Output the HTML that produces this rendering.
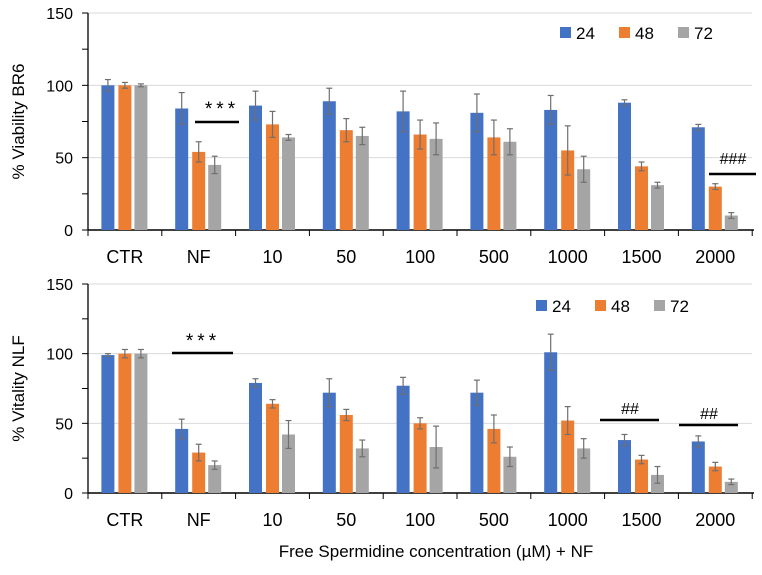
<!DOCTYPE html>
<html><head><meta charset="utf-8"><style>
body{margin:0;background:#fff;font-family:"Liberation Sans","DejaVu Sans",sans-serif}
svg text{font-family:"Liberation Sans","DejaVu Sans",sans-serif}
</style></head><body>
<svg id="c" width="762" height="570" viewBox="0 0 762 570" xmlns="http://www.w3.org/2000/svg"></svg>
<script>
const categories=["CTR","NF","10","50","100","500","1000","1500","2000"];
const seriesNames=["24","48","72"];
const colors=["#4472C4","#ED7D31","#A5A5A5"];
const br6_24=[100,84,86,89,82,81,83,88,71];
const br6_48=[100,54,73,69,66,64,55,44,30];
const br6_72=[100,45,64,65,63,61,42,31,10];
const br6Err24=[4,11,10,9,14,13,10,2,2];
const br6Err48=[2,7,9,8,10,12,17,3,2];
const br6Err72=[1,6,2,6,11,9,9,2,2];
const nlf_24=[99,46,79,72,77,72,101,38,37];
const nlf_48=[100,29,64,56,50,46,52,24,19];
const nlf_72=[100,20,42,32,33,26,32,13,8];
const nlfErr24=[1,7,3,10,6,9,13,4,4];
const nlfErr48=[3,6,3,4,4,10,10,3,3];
const nlfErr72=[3,3,10,6,15,7,7,6,2];
const yTicks=[0,50,100,150];

const svg=document.getElementById('c');
const NS="http://www.w3.org/2000/svg";
function mk(t,a,p){const e=document.createElementNS(NS,t);for(const k in a)e.setAttribute(k,a[k]);(p||svg).appendChild(e);return e;}

function chart(cfg){
  const g=mk('g',{});
  
  
  const x0=88,step=73.8;
  const y=v=>cfg.y0-(v/150)*(cfg.y0-cfg.y150);
  const xc=i=>x0+step*(i+0.5);
  yTicks.forEach(t=>{
    if(t>0){const gl=mk('line',{x1:x0,x2:752,y1:y(t),y2:y(t),stroke:'#d9d9d9','stroke-width':1},g);
      
      }
    const tx=mk('text',{x:x0-15,y:y(t)+6,'text-anchor':'end','font-size':16,fill:'#000'},g);
    tx.textContent=t;
    
    
  });
  for(let t=0;t<=150;t+=25){mk('line',{x1:x0-6,x2:x0,y1:y(t),y2:y(t),stroke:'#000','stroke-width':1},g);}
  mk('line',{x1:x0,x2:x0,y1:y(150),y2:y(0),stroke:'#000','stroke-width':1.3},g);
  mk('line',{x1:x0,x2:754,y1:y(0),y2:y(0),stroke:'#000','stroke-width':1.5},g);
  categories.forEach((c,i)=>{
    mk('line',{x1:x0+step*i,x2:x0+step*i,y1:y(0),y2:y(0)+6,stroke:'#000'},g);
    const tl=mk('text',{x:xc(i),y:y(0)+33,'text-anchor':'middle','font-size':18,fill:'#000'},g);
    tl.textContent=c;
    
    
  });
  mk('line',{x1:x0+step*9,x2:x0+step*9,y1:y(0),y2:y(0)+6,stroke:'#000'},g);
  const offs=[-17,0,16];
  cfg.vals.forEach((arr,s)=>{
    arr.forEach((v,i)=>{
      const cx=xc(i)+offs[s];
      const r=mk('rect',{x:cx-6.5,y:y(v),width:13,height:y(0)-y(v),fill:colors[s]},g);
      
      
      const e=cfg.errs[s][i];
      mk('line',{x1:cx,x2:cx,y1:y(v+e),y2:y(v-e),stroke:'#6f6f6f','stroke-width':1.2},g);
      mk('line',{x1:cx-3,x2:cx+3,y1:y(v+e),y2:y(v+e),stroke:'#6f6f6f','stroke-width':1.2},g);
      mk('line',{x1:cx-3,x2:cx+3,y1:y(v-e),y2:y(v-e),stroke:'#6f6f6f','stroke-width':1.2},g);
    });
  });
  seriesNames.forEach((n,s)=>{
    const lx=cfg.legX+s*59;
    const lr=mk('rect',{x:lx,y:cfg.legY-5,width:11,height:11,fill:colors[s]},g);
    
    
    const lt=mk('text',{x:lx+16,y:cfg.legY+7,'font-size':17,fill:'#000'},g);
    lt.textContent=n;
    
    
  });
  const yt=mk('text',{x:0,y:0,'font-size':17,'text-anchor':'middle',fill:'#000',transform:`translate(24,${(y(0)+y(150))/2}) rotate(-90)`},g);
  yt.textContent=cfg.title;
  
  
  cfg.ann.forEach(a=>{
    mk('line',{x1:a[0],x2:a[1],y1:a[2],y2:a[2],stroke:'#000','stroke-width':2.5},g);
    const at=mk('text',{x:a[3],y:a[4],'text-anchor':'middle','font-size':a[5]?19:16,fill:'#000','letter-spacing':a[5]},g);
    at.textContent=a[6];
    
    
  });
}
chart({name:'br6-chart',y0:230,y150:13,vals:[br6_24,br6_48,br6_72],errs:[br6Err24,br6Err48,br6Err72],legX:560,legY:32,title:'% Viability BR6',
  ann:[[195,239,122,222,115,4,'***'],[709,756,174,733,164,0,'###']]});
chart({name:'nlf-chart',y0:493,y150:284,vals:[nlf_24,nlf_48,nlf_72],errs:[nlfErr24,nlfErr48,nlfErr72],legX:536,legY:305,title:'% Vitality NLF',
  ann:[[172,233,353,203,347,4,'***'],[600,659,420,630,414,0,'##'],[679,738,425,709,419,0,'##']]});
const xt=mk('text',{x:436,y:557,'text-anchor':'middle','font-size':17,fill:'#000'});
xt.textContent='Free Spermidine concentration (µM) + NF';


</script>
</body></html>
